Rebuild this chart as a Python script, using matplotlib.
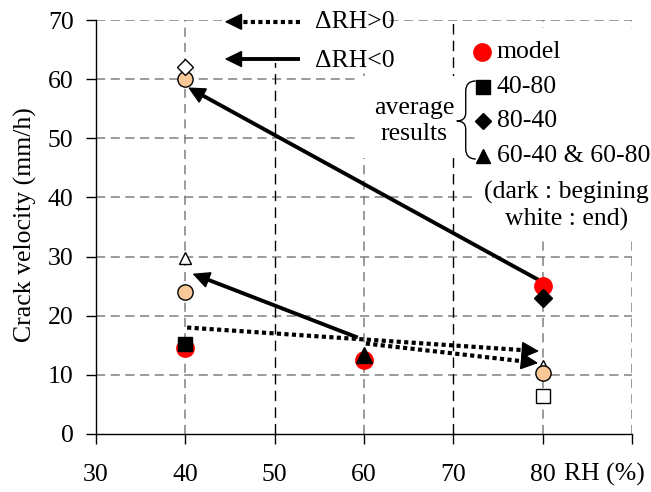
import numpy as np
import matplotlib
matplotlib.use("Agg")
import matplotlib.pyplot as plt
from matplotlib.patches import Rectangle, PathPatch
from matplotlib.path import Path

plt.rcParams['font.family'] = ['Liberation Serif', 'DejaVu Serif']
FS = 18.5

# ---- data ----
model_rh = [40, 60, 80]
model_v = [14.5, 12.5, 25.0]

end_rh = [40, 40, 80]            # peach circles
end_v = [60.0, 24.0, 10.3]

sq_begin = (40, 15.2)            # 40-80
sq_end = (80, 6.4)
dia_begin = (80, 23.0)           # 80-40
dia_end = (40, 62.0)
tri_begin = (60, 13.3)           # 60-40 & 60-80
tri_end_rh = [40, 80]
tri_end_v = [29.8, 11.5]

# arrows (start, tip)
solid_arrows = [((79.6, 26.0), (40.3, 58.6)),
                ((59.3, 16.3), (40.8, 27.1))]
dotted_arrows = [((40.2, 18.0), (79.6, 14.0)),
                 ((60.2, 15.3), (79.5, 12.0))]

xticks = [30, 40, 50, 60, 70, 80, 90]
xticklabels = ['30', '40', '50', '60', '70', '80', '']
yticks = [0, 10, 20, 30, 40, 50, 60, 70]

peach = '#F9C896'
dotted = (0, (1.0, 0.8))
SX, SY = 8.94, 5.914   # pixels per data unit

fig = plt.figure(figsize=(6.51, 4.92), dpi=100)
ax = fig.add_axes([96/651, 58/492, 536/651, 414/492])
ax.set_xlim(30, 90)
ax.set_ylim(0, 70)

# grid (drawn by hand: some verticals are black, the rest grey)
for y in yticks[1:]:
    ax.axhline(y, color='#808080', lw=1.1, ls=(0, (6, 3.6)), zorder=0.5)
for x in [40, 60, 80, 90]:
    ax.axvline(x, color='#808080', lw=1.1, ls=(0, (6, 4)), zorder=0.5)
for x in [50, 70]:
    ax.axvline(x, color='k', lw=1.0, ls=(0, (7.5, 4.5)), zorder=0.5)

# white boxes behind the legend parts
for (x0, y0, w, h) in [(44.1, 62.7, 18.3, 8.65), (59.5, 46.7, 13.2, 13.8),
                       (72.5, 32.8, 19.6, 35.85)]:
    ax.add_patch(Rectangle((x0, y0), w, h, facecolor='white', edgecolor='none',
                           zorder=1, clip_on=False))

for spine in ['top', 'right']:
    ax.spines[spine].set_visible(False)
ax.spines['left'].set_linewidth(1.0)
ax.spines['bottom'].set_linewidth(1.0)
ax.spines['bottom'].set_zorder(2)

ax.set_xticks(xticks)
ax.set_xticklabels(xticklabels)
ax.set_yticks(yticks)
ax.tick_params(axis='x', direction='out', length=7.2, width=1.0, pad=14.5, labelsize=FS)
ax.tick_params(axis='y', direction='out', length=7.2, width=1.0, pad=9, labelsize=FS)

# arrows
HEAD = 15  # head length in px
def arrow(start, tip, ls, lw):
    (sx, sy), (tx, ty) = start, tip
    dx, dy = (tx - sx) * SX, (ty - sy) * SY
    L = np.hypot(dx, dy)
    bx, by = tx - dx / L * HEAD / SX, ty - dy / L * HEAD / SY
    ax.plot([sx, bx], [sy, by], color='k', lw=lw, ls=ls, zorder=3,
            solid_capstyle='butt', clip_on=False)
    ax.annotate('', xy=tip, xytext=(bx, by), zorder=3,
                arrowprops=dict(arrowstyle='-|>,head_length=0.55,head_width=0.27',
                                lw=1, color='k', shrinkA=0, shrinkB=0,
                                mutation_scale=20, joinstyle='miter'))

for s, t in solid_arrows:
    arrow(s, t, '-', 2.8)
for s, t in dotted_arrows:
    arrow(s, t, dotted, 3.0)

# points
ax.plot(model_rh, model_v, 'o', ms=12.5, color='red', mec='red', zorder=4, clip_on=False)
ax.plot(tri_end_rh[1], tri_end_v[1], '^', ms=9, mfc='white', mec='k', mew=1, zorder=4)
ax.plot(end_rh, end_v, 'o', ms=11, mfc=peach, mec='k', mew=1, zorder=5)
ax.plot(*sq_begin, 's', ms=10.5, color='k', zorder=6)
ax.plot(*sq_end, 's', ms=10, mfc='white', mec='k', mew=1, zorder=6)
ax.plot(*dia_begin, 'D', ms=9.5, color='k', zorder=6)
ax.plot(*dia_end, 'D', ms=8, mfc='white', mec='k', mew=1, zorder=6)
ax.plot(*tri_begin, '^', ms=11, color='k', zorder=6)
ax.plot(tri_end_rh[0], tri_end_v[0], '^', ms=9, mfc='white', mec='k', mew=1, zorder=6)

# legend of arrows
arrow((52.8, 69.7), (44.4, 69.7), dotted, 3.0)
arrow((52.8, 63.4), (44.4, 63.4), '-', 2.8)
ax.text(54.5, 69.7, 'ΔRH>0', fontsize=FS, va='center', ha='left', zorder=7)
ax.text(54.5, 63.0, 'ΔRH<0', fontsize=FS, va='center', ha='left', zorder=7)

# legend of markers
ax.plot(73.2, 64.6, 'o', ms=12.5, color='red', zorder=6, clip_on=False)
ax.plot(73.3, 58.7, 's', ms=10, color='k', zorder=6, clip_on=False)
ax.plot(73.3, 52.9, 'D', ms=8.5, color='k', zorder=6, clip_on=False)
ax.plot(73.3, 47.0, '^', ms=10, color='k', zorder=6, clip_on=False)
ax.text(74.85, 64.6, 'model', fontsize=FS, va='center', ha='left', zorder=7)
ax.text(74.85, 58.7, '40-80', fontsize=FS, va='center', ha='left', zorder=7)
ax.text(74.85, 52.9, '80-40', fontsize=FS, va='center', ha='left', zorder=7)
ax.text(74.85, 47.0, '60-40 & 60-80', fontsize=FS, va='center', ha='left', zorder=7)
ax.text(82.7, 38.55, '(dark : begining\nwhite : end)', fontsize=FS, va='center',
        ha='center', linespacing=1.25, zorder=7)
ax.text(65.6, 52.9, 'average\nresults', fontsize=FS, va='center', ha='center',
        linespacing=1.25, zorder=7)

# brace
def px(x, y):
    return (30 + (x - 96) / SX, (434 - y) / SY)

verts = [px(476, 81), px(466, 81), px(466, 91),
         px(466, 113),
         px(466, 121), px(457, 121),
         px(466, 121), px(466, 129),
         px(466, 149),
         px(466, 159), px(476, 159)]
codes = [Path.MOVETO, Path.CURVE3, Path.CURVE3,
         Path.LINETO,
         Path.CURVE3, Path.CURVE3,
         Path.CURVE3, Path.CURVE3,
         Path.LINETO,
         Path.CURVE3, Path.CURVE3]
ax.add_patch(PathPatch(Path(verts, codes), facecolor='none', edgecolor='k',
                       lw=1.0, zorder=7, clip_on=False))

ax.text(82.35, -6.9, 'RH (%)', fontsize=FS, va='center', ha='left', clip_on=False)
fig.text(25/651, 1 - 225/492, 'Crack velocity (mm/h)', fontsize=FS, rotation=90,
         ha='center', va='center')

fig.savefig('out.png', dpi=100)
